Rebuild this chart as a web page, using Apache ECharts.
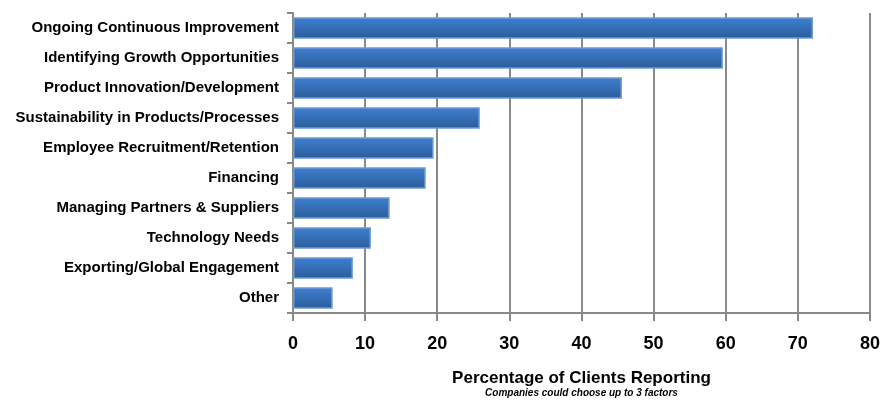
<!DOCTYPE html>
<html><head><meta charset="utf-8">
<script src="https://cdn.jsdelivr.net/npm/echarts@6/dist/echarts.min.js"></script>
<style>html,body{margin:0;padding:0;background:#fff}#c{width:883px;height:407px}</style>
</head><body><div id="c"></div>
<script>
const categories = ["Ongoing Continuous Improvement","Identifying Growth Opportunities","Product Innovation/Development","Sustainability in Products/Processes","Employee Recruitment/Retention","Financing","Managing Partners & Suppliers","Technology Needs","Exporting/Global Engagement","Other"];
const values = [72.1, 59.6, 45.6, 25.9, 19.5, 18.4, 13.4, 10.8, 8.3, 5.5];
const xTicks = [0,10,20,30,40,50,60,70,80];
const axisTitle = "Percentage of Clients Reporting";
const axisSubtitle = "Companies could choose up to 3 factors";

const chart = echarts.init(document.getElementById('c'));
const fontFam = '"Liberation Sans Narrow","Liberation Sans",Arial,sans-serif';
chart.setOption({
  animation:false,
  grid:{left:293,right:13,top:13,bottom:94,containLabel:false},
  xAxis:{type:'value',min:xTicks[0],max:xTicks[xTicks.length-1],interval:10,
    axisLine:{show:true,lineStyle:{color:'#888',width:2}},
    axisTick:{show:true,length:8,lineStyle:{color:'#888',width:2}},
    splitLine:{show:true,lineStyle:{color:'#888',width:2}},
    axisLabel:{color:'#000',fontFamily:fontFam,fontWeight:'bold',fontSize:18,margin:22},
    name:'{a|'+axisTitle+'}\n{b|'+axisSubtitle+'}',
    nameLocation:'middle',nameGap:57,
    nameTextStyle:{rich:{
      a:{fontFamily:fontFam,fontWeight:'bold',fontSize:17,color:'#000',lineHeight:17},
      b:{fontFamily:fontFam,fontWeight:'bold',fontStyle:'italic',fontSize:10,color:'#000',lineHeight:12}
    }}
  },
  yAxis:{type:'category',data:categories,inverse:true,
    axisLine:{show:true,lineStyle:{color:'#888',width:2}},
    axisTick:{show:true,length:6,lineStyle:{color:'#888',width:2}},
    axisLabel:{color:'#000',fontFamily:fontFam,fontWeight:'bold',fontSize:15,margin:14}
  },
  series:[{type:'bar',data:values,barCategoryGap:'28%',
    itemStyle:{
      color:new echarts.graphic.LinearGradient(0,0,0,1,[{offset:0,color:'#3f80d0'},{offset:1,color:'#2c5c9a'}]),
      borderColor:'#6b9ad6',borderWidth:1.5
    }
  }]
});
</script></body></html>
